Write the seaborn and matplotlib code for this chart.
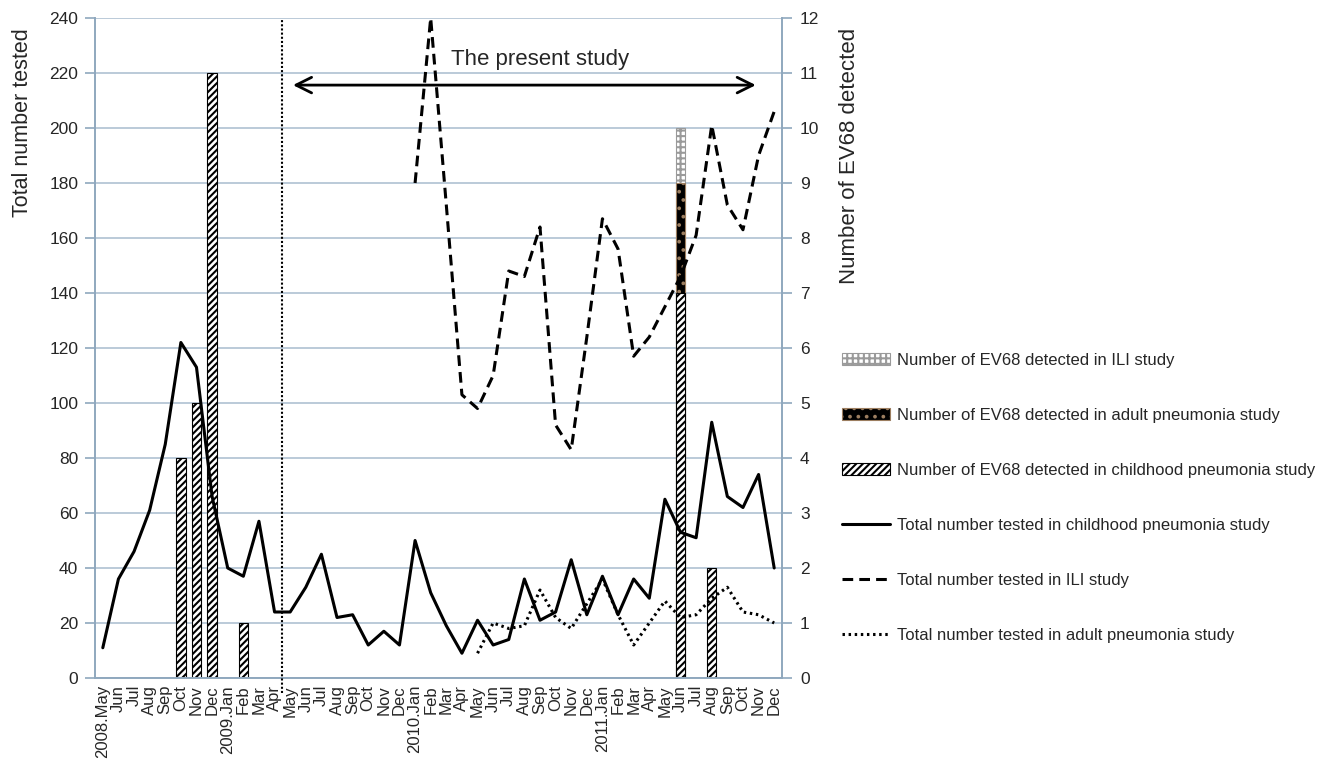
import numpy as np
import pandas as pd
import matplotlib.pyplot as plt
import seaborn as sns
from matplotlib.patches import Patch
from matplotlib.lines import Line2D

# Months covered by the chart (May 2008 - Dec 2011)
months = pd.period_range("2008-05", "2011-12", freq="M")

# Total number tested per month (left axis)
child_tested = [11, 36, 46, 61, 85, 122, 113, 66, 40, 37, 57, 24, 24, 33, 45,
                22, 23, 12, 17, 12, 50, 31, 19, 9, 21, 12, 14, 36, 21, 24,
                43, 23, 37, 23, 36, 29, 65, 53, 51, 93, 66, 62, 74, 40]
ili_start = "2010-01"
ili_tested = [180, 240, 172, 103, 98, 110, 148, 146, 164, 92, 83, 124,
              167, 156, 117, 124, 135, 146, 161, 201, 172, 163, 190, 206]
adult_start = "2010-05"
adult_tested = [9, 20, 18, 19, 32, 22, 18, 27, 36, 23, 12, 20, 28, 22,
                23, 29, 33, 24, 23, 20]

# Number of EV68 detected (right axis)
ev_months = ["2008-10", "2008-11", "2008-12", "2009-02", "2011-06", "2011-08"]
ev_child = [4, 5, 11, 1, 7, 2]
ev_adult = [0, 0, 0, 0, 2, 0]
ev_ili = [0, 0, 0, 0, 1, 0]

pos = {str(m): i for i, m in enumerate(months)}
tick_labels = [f"{m.year}.{m.strftime('%b')}" if (i == 0 or m.month == 1) else m.strftime("%b")
               for i, m in enumerate(months)]

ev = pd.DataFrame({"pos": [pos[m] for m in ev_months],
                   "child": ev_child, "adult": ev_adult, "ili": ev_ili})
ev["adult_top"] = ev["child"] + ev["adult"]
ev["ili_top"] = ev["adult_top"] + ev["ili"]

sns.set_style("white")
plt.rcParams["font.family"] = ["Liberation Sans", "DejaVu Sans"]
plt.rcParams["hatch.linewidth"] = 1.5

axis_col = "#8FA8BE"
grid_col = "#AFC1D2"

# bar styles: (face, hatch colour, hatch)
ili_style = ("white", "#9a9a9a", "+++")
adult_style = ("black", "#9c7e60", "..")
child_style = ("white", "black", "/////")

fig = plt.figure(figsize=(13.31, 7.69), dpi=100)
ax = fig.add_axes([95 / 1331, 1 - 678 / 769, 687 / 1331, 660 / 769])
ax2 = ax.twinx()

# --- bars: EV68 detected (stacked by drawing the tallest layer first) ---
sns.barplot(data=ev[ev["ili"] > 0], x="pos", y="ili_top", ax=ax, orient="x",
            native_scale=True, width=0.6, errorbar=None, saturation=1,
            color=ili_style[0], edgecolor=ili_style[1], hatch=ili_style[2], linewidth=0.8)
sns.barplot(data=ev[ev["adult"] > 0], x="pos", y="adult_top", ax=ax, orient="x",
            native_scale=True, width=0.6, errorbar=None, saturation=1,
            color=adult_style[0], edgecolor=adult_style[1], hatch=adult_style[2], linewidth=0.8)
sns.barplot(data=ev, x="pos", y="child", ax=ax, orient="x",
            native_scale=True, width=0.6, errorbar=None, saturation=1,
            color=child_style[0], edgecolor=child_style[1], hatch=child_style[2], linewidth=0.8)

# --- lines: total number tested ---
x_child = np.arange(len(child_tested))
x_ili = pos[ili_start] + np.arange(len(ili_tested))
x_adult = pos[adult_start] + np.arange(len(adult_tested))
sns.lineplot(x=x_child, y=child_tested, ax=ax2, color="black", lw=2.2)
sns.lineplot(x=x_ili, y=ili_tested, ax=ax2, color="black", lw=2.2,
             linestyle=(0, (3.5, 2)))
sns.lineplot(x=x_adult, y=adult_tested, ax=ax2, color="black", lw=2.2,
             linestyle=(0, (0.8, 1.2)))

# study period marker
ax2.axvline(11.5, ymin=-0.023, ymax=1, color="black", lw=1.5,
            linestyle=(0, (1, 1)), clip_on=False)
ax2.annotate("", xy=(12, 215.6), xytext=(42, 215.6),
             arrowprops=dict(arrowstyle="<->", lw=2, color="black", mutation_scale=28))
ax2.text(28, 223, "The present study", ha="center", va="baseline", fontsize=16)

# --- axes formatting ---
ax.set_xlim(-0.5, len(months) - 0.5)
ax.set_ylim(0, 12)
ax2.set_ylim(0, 240)
ax.yaxis.tick_right()
ax.yaxis.set_label_position("right")
ax2.yaxis.tick_left()
ax2.yaxis.set_label_position("left")

ax.set_yticks(range(0, 13))
ax2.set_yticks(range(0, 241, 20))
ax.set_xticks(np.arange(len(months)))
ax.set_xticklabels(tick_labels, rotation=90, fontsize=12)
ax.set_xticks(np.arange(len(months) + 1) - 0.5, minor=True)
ax.tick_params(axis="x", which="major", length=0, pad=5)
ax.tick_params(axis="x", which="minor", length=6, color=axis_col, width=1.2)
ax.tick_params(axis="y", length=7, color=axis_col, width=1.2, labelsize=12.5, pad=6)
ax2.tick_params(axis="y", length=7, color=axis_col, width=1.2, labelsize=12.5, pad=5)

ax.set_axisbelow(True)
ax.yaxis.grid(True, color=grid_col, lw=1.2)
ax.xaxis.grid(False)
for side in ["left", "right", "bottom"]:
    ax.spines[side].set_visible(True)
    ax.spines[side].set_color(axis_col)
    ax.spines[side].set_linewidth(1.4)
ax.spines["top"].set_visible(False)
for side in ax2.spines:
    ax2.spines[side].set_visible(False)

ax.set_xlabel("")
ax2.set_xlabel("")
ax.set_ylabel("Number of EV68 detected", fontsize=16, labelpad=14, loc="top")
ax2.set_ylabel("Total number tested", fontsize=15.5, labelpad=12, loc="top")
ax.yaxis.label.set_y(0.985)
ax2.yaxis.label.set_y(0.985)

handles = [
    Patch(facecolor=ili_style[0], edgecolor=ili_style[1], hatch=ili_style[2], lw=0.8),
    Patch(facecolor=adult_style[0], edgecolor=adult_style[1], hatch=adult_style[2], lw=0.8),
    Patch(facecolor=child_style[0], edgecolor=child_style[1], hatch=child_style[2], lw=0.8),
    Line2D([], [], color="black", lw=2.2),
    Line2D([], [], color="black", lw=2.2, linestyle=(0, (3.5, 2))),
    Line2D([], [], color="black", lw=2.2, linestyle=(0, (0.8, 1.2))),
]
labels = [
    "Number of EV68 detected in ILI study",
    "Number of EV68 detected in adult pneumonia study",
    "Number of EV68 detected in childhood pneumonia study",
    "Total number tested in childhood pneumonia study",
    "Total number tested in ILI study",
    "Total number tested in adult pneumonia study",
]
fig.legend(handles, labels, loc="upper left", bbox_to_anchor=(842 / 1331, 1 - 353 / 769),
           frameon=False, fontsize=12, labelspacing=2.4, handlelength=2.9,
           handletextpad=0.4, borderpad=0, borderaxespad=0)

fig.savefig("out.png", dpi=100)
